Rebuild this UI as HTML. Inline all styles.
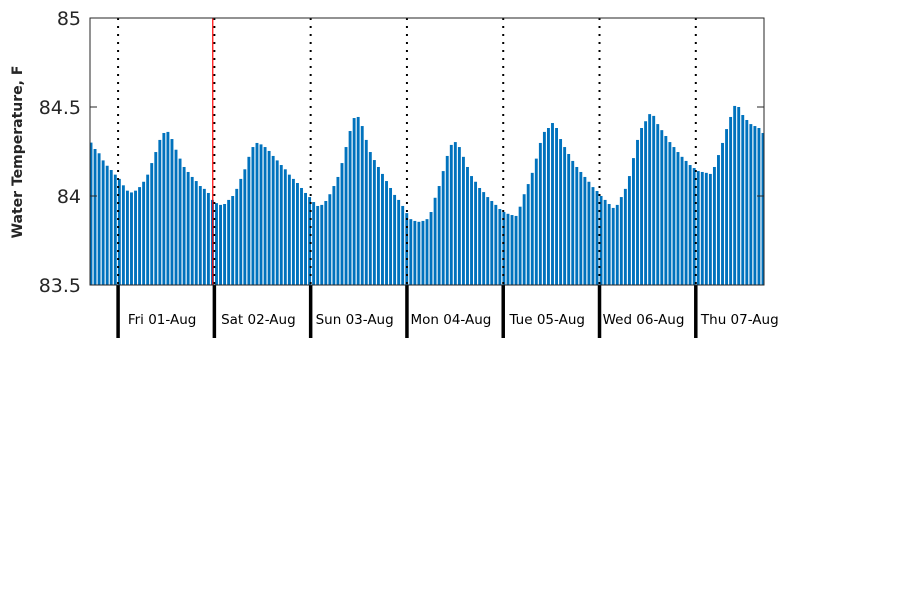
<!DOCTYPE html>
<html><head><meta charset="utf-8"><style>
body{margin:0;background:#fff;}
svg text{font-family:"DejaVu Sans","Liberation Sans",sans-serif;}
</style></head><body>
<svg id="chart" width="900" height="600" xmlns="http://www.w3.org/2000/svg">
<rect width="900" height="600" fill="#fff"/>
<g id="bars"></g>
<g id="grid"></g>
<g id="axes"></g>
<text transform="translate(22,152) rotate(-90)" text-anchor="middle" font-size="14" font-weight="bold" fill="#262626">Water Temperature, F</text>
</svg>
<script>
const startHour = -7;
const values = [84.30,84.264,84.24,84.20,84.17,84.146,84.12,84.096,84.06,84.03,84.02,84.03,84.05,84.08,84.12,84.185,84.247,84.315,84.354,84.36,84.32,84.26,84.21,84.163,84.135,84.107,84.084,84.056,84.04,84.017,83.978,83.96,83.95,83.955,83.978,84.0,84.04,84.096,84.15,84.22,84.275,84.298,84.29,84.275,84.253,84.225,84.2,84.174,84.15,84.12,84.096,84.073,84.045,84.017,83.994,
83.966,83.944,83.95,83.972,84.01,84.056,84.107,84.185,84.275,84.365,84.438,84.444,84.393,84.315,84.247,84.202,84.163,84.124,84.084,84.045,84.006,83.978,83.944,83.904,83.87,83.86,83.855,83.86,83.87,83.91,83.99,84.056,84.14,84.225,84.287,84.303,84.275,84.22,84.163,84.112,84.08,84.045,84.022,83.994,83.972,83.95,83.927,83.91,83.9,83.893,83.888,83.94,84.01,84.067,84.13,
84.21,84.298,84.36,84.382,84.41,84.382,84.32,84.275,84.236,84.197,84.163,84.135,84.107,84.08,84.05,84.028,84.0,83.978,83.955,83.933,83.95,83.994,84.04,84.112,84.213,84.315,84.382,84.42,84.46,84.45,84.404,84.37,84.337,84.303,84.275,84.247,84.22,84.197,84.174,84.157,84.14,84.135,84.13,84.124,84.163,84.23,84.298,84.376,84.444,84.506,84.5,84.455,84.427,84.404,84.393,84.382,84.354];
const dayLabels = ["Fri 01-Aug","Sat 02-Aug","Sun 03-Aug","Mon 04-Aug","Tue 05-Aug","Wed 06-Aug","Thu 07-Aug"];
const yTicks = [83.5,84,84.5,85];
const yTickLabels = ["83.5","84","84.5","85"];
const redLineHour = 23.6;

const L=90,R=764,T=18,B=285, X0=-7, X1=161, Y0=83.5, Y1=85;
const x = h => L + (h - X0) * (R - L) / (X1 - X0);
const xb = i => 91 + i * (763 - 91) / (values.length - 1);
const y = v => B - (v - Y0) * (B - T) / (Y1 - Y0);
const NS="http://www.w3.org/2000/svg";
function mk(tag, attrs, parent){const e=document.createElementNS(NS,tag);for(const k in attrs)e.setAttribute(k,attrs[k]);parent.appendChild(e);return e;}
const bars=document.getElementById('bars'), grid=document.getElementById('grid'), axes=document.getElementById('axes');
const bw=2.9;
values.forEach((v,i)=>{
  const cx=xb(i);
  let x0=Math.max(L,cx-bw/2), x1=Math.min(R,cx+bw/2);
  const r=mk('rect',{x:x0,y:y(v),width:Math.max(0,x1-x0),height:B-y(v),fill:'#0072bd'},bars);
  
  
});
dayLabels.forEach((d,i)=>{
  const gx=x(i*24);
  const dl=mk('line',{x1:gx,y1:T,x2:gx,y2:B,stroke:'#000','stroke-width':2,'stroke-dasharray':'2,6'},grid);
  
  
  const tk=mk('line',{x1:gx,y1:B,x2:gx,y2:338,stroke:'#000','stroke-width':3.5},axes);
  
  
  const t=mk('text',{x:gx+44,y:324,'font-size':13.5,'text-anchor':'middle',fill:'#000'},axes);
  t.textContent=d;
  
  
});
const rl=mk('line',{x1:x(redLineHour),y1:T,x2:x(redLineHour),y2:B,stroke:'#ff0000','stroke-width':1.2},grid);


const box=mk('rect',{x:L,y:T,width:R-L,height:B-T,fill:'none',stroke:'#262626','stroke-width':1},axes);


yTicks.forEach((v,i)=>{
  const a=mk('line',{x1:L,y1:y(v),x2:L+7,y2:y(v),stroke:'#262626'},axes);
  
  
  const b=mk('line',{x1:R,y1:y(v),x2:R-7,y2:y(v),stroke:'#262626'},axes);
  
  
  const t=mk('text',{x:L-9,y:y(v)+7,'font-size':19,'text-anchor':'end',fill:'#262626'},axes);
  t.textContent=yTickLabels[i];
  
  
});
</script>
</body></html>
